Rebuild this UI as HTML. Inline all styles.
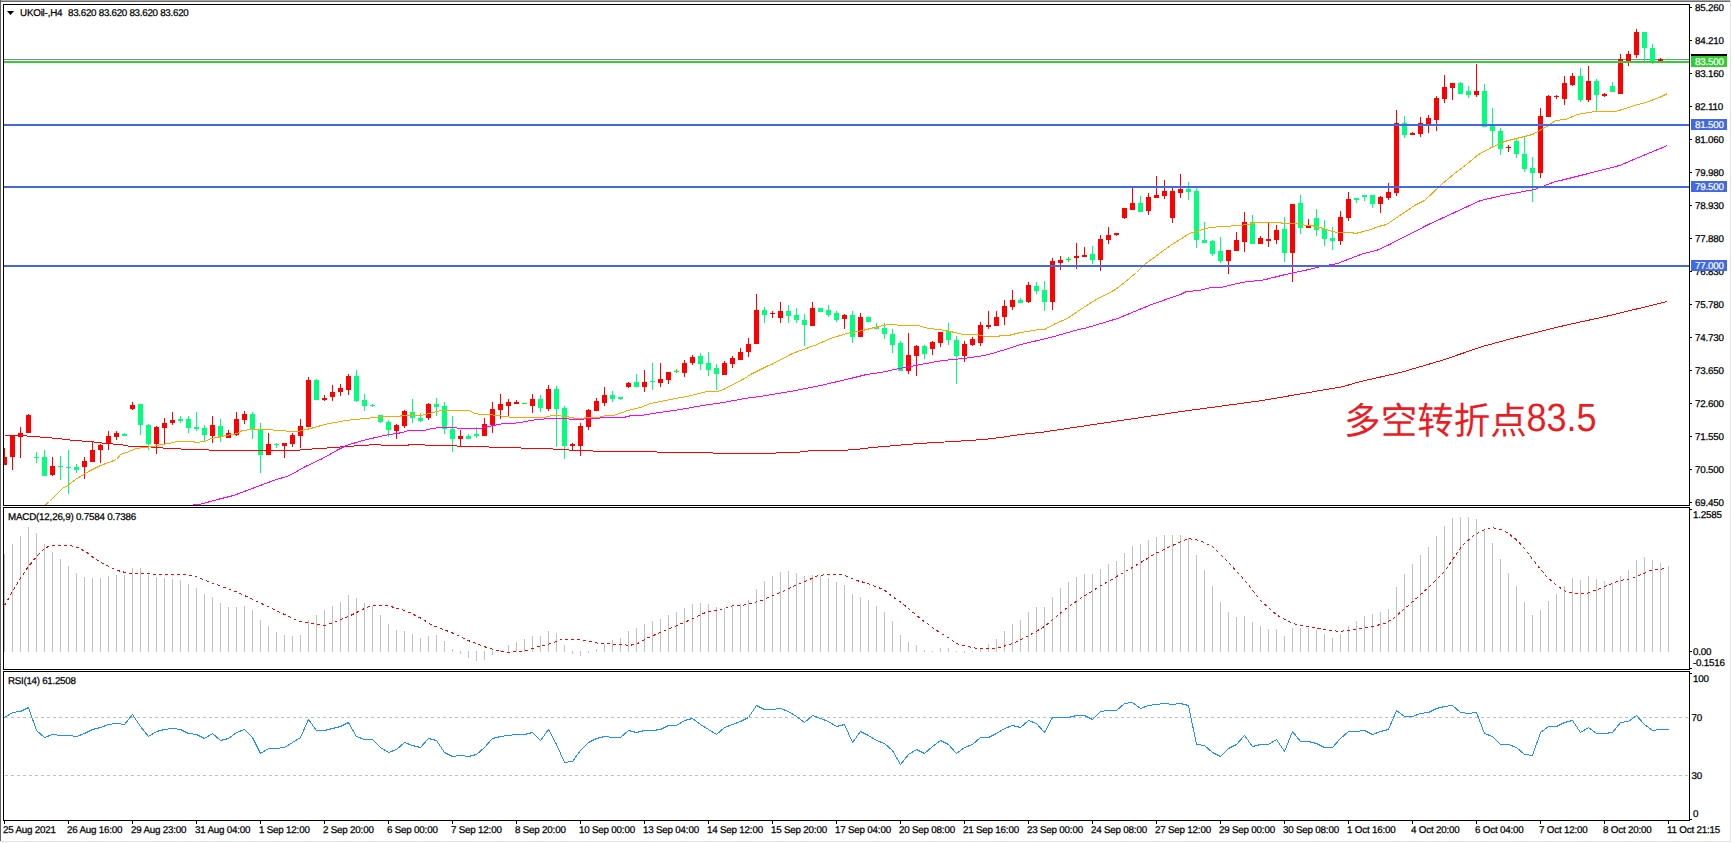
<!DOCTYPE html>
<html><head><meta charset="utf-8"><title>UKOil H4</title>
<style>
html,body{margin:0;padding:0;background:#fff;width:1732px;height:843px;overflow:hidden;}
svg{display:block;}
</style></head>
<body>
<svg width="1732" height="843" viewBox="0 0 1732 843" shape-rendering="crispEdges">
<defs><clipPath id="cm"><rect x="4" y="5" width="1685" height="500"/></clipPath><clipPath id="cd"><rect x="4" y="508" width="1685" height="161"/></clipPath><clipPath id="cr"><rect x="4" y="672" width="1685" height="148"/></clipPath></defs>
<style>text.k{fill:#000;stroke:#000;stroke-width:0.25px}text.w{fill:#fff;stroke:#fff;stroke-width:0.2px}</style>
<rect x="0" y="0" width="1732" height="843" fill="#ffffff"/>
<rect x="4" y="59" width="1685" height="1" fill="#778899"/>
<g clip-path="url(#cm)">
<rect x="4" y="448" width="1" height="17" fill="#ff0000"/>
<rect x="2" y="457" width="5" height="8" fill="#ff0000"/>
<rect x="12" y="435" width="1" height="35" fill="#ff0000"/>
<rect x="10" y="435" width="5" height="22" fill="#ff0000"/>
<rect x="20" y="427" width="1" height="31" fill="#ff0000"/>
<rect x="18" y="433" width="5" height="4" fill="#ff0000"/>
<rect x="28" y="414" width="1" height="19" fill="#ff0000"/>
<rect x="26" y="415" width="5" height="18" fill="#ff0000"/>
<rect x="36" y="452" width="1" height="11" fill="#00ff7f"/>
<rect x="34" y="457" width="5" height="1" fill="#00ff7f"/>
<rect x="44" y="450" width="1" height="26" fill="#00ff7f"/>
<rect x="42" y="457" width="5" height="19" fill="#00ff7f"/>
<rect x="52" y="457" width="1" height="19" fill="#ff0000"/>
<rect x="50" y="466" width="5" height="9" fill="#ff0000"/>
<rect x="60" y="456" width="1" height="24" fill="#00ff7f"/>
<rect x="58" y="466" width="5" height="1" fill="#00ff7f"/>
<rect x="68" y="450" width="1" height="44" fill="#00ff7f"/>
<rect x="66" y="467" width="5" height="1" fill="#00ff7f"/>
<rect x="76" y="464" width="1" height="9" fill="#00ff7f"/>
<rect x="74" y="467" width="5" height="3" fill="#00ff7f"/>
<rect x="84" y="457" width="1" height="22" fill="#ff0000"/>
<rect x="82" y="461" width="5" height="6" fill="#ff0000"/>
<rect x="92" y="442" width="1" height="20" fill="#ff0000"/>
<rect x="90" y="450" width="5" height="12" fill="#ff0000"/>
<rect x="100" y="444" width="1" height="19" fill="#ff0000"/>
<rect x="98" y="445" width="5" height="5" fill="#ff0000"/>
<rect x="108" y="431" width="1" height="19" fill="#ff0000"/>
<rect x="106" y="436" width="5" height="8" fill="#ff0000"/>
<rect x="116" y="431" width="1" height="9" fill="#ff0000"/>
<rect x="114" y="433" width="5" height="4" fill="#ff0000"/>
<rect x="124" y="433" width="1" height="3" fill="#00ff7f"/>
<rect x="122" y="434" width="5" height="2" fill="#00ff7f"/>
<rect x="132" y="402" width="1" height="8" fill="#ff0000"/>
<rect x="130" y="405" width="5" height="4" fill="#ff0000"/>
<rect x="140" y="404" width="1" height="31" fill="#00ff7f"/>
<rect x="138" y="404" width="5" height="21" fill="#00ff7f"/>
<rect x="148" y="424" width="1" height="26" fill="#00ff7f"/>
<rect x="146" y="425" width="5" height="19" fill="#00ff7f"/>
<rect x="156" y="426" width="1" height="28" fill="#ff0000"/>
<rect x="154" y="427" width="5" height="17" fill="#ff0000"/>
<rect x="164" y="418" width="1" height="26" fill="#ff0000"/>
<rect x="162" y="423" width="5" height="5" fill="#ff0000"/>
<rect x="172" y="412" width="1" height="13" fill="#ff0000"/>
<rect x="170" y="420" width="5" height="3" fill="#ff0000"/>
<rect x="180" y="416" width="1" height="7" fill="#00ff7f"/>
<rect x="178" y="419" width="5" height="2" fill="#00ff7f"/>
<rect x="188" y="416" width="1" height="17" fill="#00ff7f"/>
<rect x="186" y="419" width="5" height="9" fill="#00ff7f"/>
<rect x="196" y="412" width="1" height="19" fill="#00ff7f"/>
<rect x="194" y="427" width="5" height="2" fill="#00ff7f"/>
<rect x="204" y="425" width="1" height="16" fill="#00ff7f"/>
<rect x="202" y="428" width="5" height="7" fill="#00ff7f"/>
<rect x="212" y="416" width="1" height="27" fill="#ff0000"/>
<rect x="210" y="425" width="5" height="11" fill="#ff0000"/>
<rect x="220" y="419" width="1" height="23" fill="#00ff7f"/>
<rect x="218" y="426" width="5" height="11" fill="#00ff7f"/>
<rect x="228" y="430" width="1" height="8" fill="#ff0000"/>
<rect x="226" y="433" width="5" height="5" fill="#ff0000"/>
<rect x="236" y="412" width="1" height="24" fill="#ff0000"/>
<rect x="234" y="419" width="5" height="16" fill="#ff0000"/>
<rect x="244" y="411" width="1" height="13" fill="#ff0000"/>
<rect x="242" y="414" width="5" height="6" fill="#ff0000"/>
<rect x="252" y="412" width="1" height="27" fill="#00ff7f"/>
<rect x="250" y="414" width="5" height="15" fill="#00ff7f"/>
<rect x="260" y="423" width="1" height="50" fill="#00ff7f"/>
<rect x="258" y="430" width="5" height="25" fill="#00ff7f"/>
<rect x="268" y="433" width="1" height="22" fill="#ff0000"/>
<rect x="266" y="444" width="5" height="11" fill="#ff0000"/>
<rect x="276" y="443" width="1" height="5" fill="#00ff7f"/>
<rect x="274" y="444" width="5" height="1" fill="#00ff7f"/>
<rect x="284" y="443" width="1" height="15" fill="#ff0000"/>
<rect x="282" y="443" width="5" height="3" fill="#ff0000"/>
<rect x="292" y="433" width="1" height="14" fill="#ff0000"/>
<rect x="290" y="435" width="5" height="9" fill="#ff0000"/>
<rect x="300" y="419" width="1" height="29" fill="#ff0000"/>
<rect x="298" y="426" width="5" height="10" fill="#ff0000"/>
<rect x="308" y="377" width="1" height="50" fill="#ff0000"/>
<rect x="306" y="380" width="5" height="47" fill="#ff0000"/>
<rect x="316" y="379" width="1" height="21" fill="#00ff7f"/>
<rect x="314" y="380" width="5" height="20" fill="#00ff7f"/>
<rect x="324" y="395" width="1" height="6" fill="#ff0000"/>
<rect x="322" y="398" width="5" height="2" fill="#ff0000"/>
<rect x="332" y="385" width="1" height="16" fill="#ff0000"/>
<rect x="330" y="392" width="5" height="5" fill="#ff0000"/>
<rect x="340" y="384" width="1" height="12" fill="#ff0000"/>
<rect x="338" y="388" width="5" height="4" fill="#ff0000"/>
<rect x="348" y="374" width="1" height="21" fill="#ff0000"/>
<rect x="346" y="376" width="5" height="14" fill="#ff0000"/>
<rect x="356" y="370" width="1" height="32" fill="#00ff7f"/>
<rect x="354" y="376" width="5" height="25" fill="#00ff7f"/>
<rect x="364" y="394" width="1" height="17" fill="#00ff7f"/>
<rect x="362" y="400" width="5" height="6" fill="#00ff7f"/>
<rect x="372" y="404" width="1" height="3" fill="#00ff7f"/>
<rect x="370" y="405" width="5" height="1" fill="#00ff7f"/>
<rect x="380" y="415" width="1" height="8" fill="#00ff7f"/>
<rect x="378" y="415" width="5" height="7" fill="#00ff7f"/>
<rect x="388" y="420" width="1" height="17" fill="#00ff7f"/>
<rect x="386" y="422" width="5" height="8" fill="#00ff7f"/>
<rect x="396" y="424" width="1" height="15" fill="#ff0000"/>
<rect x="394" y="425" width="5" height="6" fill="#ff0000"/>
<rect x="404" y="410" width="1" height="18" fill="#ff0000"/>
<rect x="402" y="411" width="5" height="15" fill="#ff0000"/>
<rect x="412" y="399" width="1" height="24" fill="#00ff7f"/>
<rect x="410" y="412" width="5" height="6" fill="#00ff7f"/>
<rect x="420" y="413" width="1" height="9" fill="#00ff7f"/>
<rect x="418" y="418" width="5" height="3" fill="#00ff7f"/>
<rect x="428" y="403" width="1" height="17" fill="#ff0000"/>
<rect x="426" y="404" width="5" height="14" fill="#ff0000"/>
<rect x="436" y="398" width="1" height="18" fill="#00ff7f"/>
<rect x="434" y="404" width="5" height="3" fill="#00ff7f"/>
<rect x="444" y="402" width="1" height="32" fill="#00ff7f"/>
<rect x="442" y="406" width="5" height="23" fill="#00ff7f"/>
<rect x="452" y="416" width="1" height="36" fill="#00ff7f"/>
<rect x="450" y="429" width="5" height="10" fill="#00ff7f"/>
<rect x="460" y="430" width="1" height="16" fill="#ff0000"/>
<rect x="458" y="436" width="5" height="3" fill="#ff0000"/>
<rect x="468" y="434" width="1" height="5" fill="#00ff7f"/>
<rect x="466" y="436" width="5" height="3" fill="#00ff7f"/>
<rect x="476" y="427" width="1" height="11" fill="#00ff7f"/>
<rect x="474" y="434" width="5" height="2" fill="#00ff7f"/>
<rect x="484" y="418" width="1" height="18" fill="#ff0000"/>
<rect x="482" y="424" width="5" height="12" fill="#ff0000"/>
<rect x="492" y="402" width="1" height="31" fill="#ff0000"/>
<rect x="490" y="409" width="5" height="16" fill="#ff0000"/>
<rect x="500" y="394" width="1" height="25" fill="#ff0000"/>
<rect x="498" y="404" width="5" height="6" fill="#ff0000"/>
<rect x="508" y="399" width="1" height="17" fill="#ff0000"/>
<rect x="506" y="402" width="5" height="4" fill="#ff0000"/>
<rect x="516" y="400" width="1" height="4" fill="#ff0000"/>
<rect x="514" y="402" width="5" height="2" fill="#ff0000"/>
<rect x="524" y="403" width="1" height="1" fill="#00ff00"/>
<rect x="522" y="403" width="5" height="1" fill="#00ff00"/>
<rect x="532" y="394" width="1" height="19" fill="#ff0000"/>
<rect x="530" y="399" width="5" height="7" fill="#ff0000"/>
<rect x="540" y="395" width="1" height="17" fill="#00ff7f"/>
<rect x="538" y="399" width="5" height="9" fill="#00ff7f"/>
<rect x="548" y="385" width="1" height="26" fill="#ff0000"/>
<rect x="546" y="389" width="5" height="20" fill="#ff0000"/>
<rect x="556" y="386" width="1" height="61" fill="#00ff7f"/>
<rect x="554" y="389" width="5" height="20" fill="#00ff7f"/>
<rect x="564" y="406" width="1" height="53" fill="#00ff7f"/>
<rect x="562" y="408" width="5" height="38" fill="#00ff7f"/>
<rect x="572" y="443" width="1" height="7" fill="#ff0000"/>
<rect x="570" y="444" width="5" height="2" fill="#ff0000"/>
<rect x="580" y="423" width="1" height="33" fill="#ff0000"/>
<rect x="578" y="426" width="5" height="20" fill="#ff0000"/>
<rect x="588" y="409" width="1" height="21" fill="#ff0000"/>
<rect x="586" y="410" width="5" height="17" fill="#ff0000"/>
<rect x="596" y="398" width="1" height="13" fill="#ff0000"/>
<rect x="594" y="401" width="5" height="10" fill="#ff0000"/>
<rect x="604" y="387" width="1" height="19" fill="#ff0000"/>
<rect x="602" y="395" width="5" height="8" fill="#ff0000"/>
<rect x="612" y="391" width="1" height="11" fill="#00ff7f"/>
<rect x="610" y="395" width="5" height="4" fill="#00ff7f"/>
<rect x="620" y="397" width="1" height="3" fill="#00ff7f"/>
<rect x="618" y="397" width="5" height="2" fill="#00ff7f"/>
<rect x="628" y="382" width="1" height="6" fill="#ff0000"/>
<rect x="626" y="383" width="5" height="4" fill="#ff0000"/>
<rect x="636" y="374" width="1" height="13" fill="#00ff7f"/>
<rect x="634" y="382" width="5" height="5" fill="#00ff7f"/>
<rect x="644" y="370" width="1" height="22" fill="#ff0000"/>
<rect x="642" y="382" width="5" height="5" fill="#ff0000"/>
<rect x="652" y="363" width="1" height="27" fill="#00ff7f"/>
<rect x="650" y="381" width="5" height="1" fill="#00ff7f"/>
<rect x="660" y="363" width="1" height="24" fill="#ff0000"/>
<rect x="658" y="379" width="5" height="4" fill="#ff0000"/>
<rect x="668" y="372" width="1" height="12" fill="#ff0000"/>
<rect x="666" y="372" width="5" height="8" fill="#ff0000"/>
<rect x="676" y="369" width="1" height="4" fill="#00ff00"/>
<rect x="674" y="371" width="5" height="1" fill="#00ff00"/>
<rect x="684" y="360" width="1" height="17" fill="#ff0000"/>
<rect x="682" y="363" width="5" height="10" fill="#ff0000"/>
<rect x="692" y="355" width="1" height="10" fill="#ff0000"/>
<rect x="690" y="357" width="5" height="6" fill="#ff0000"/>
<rect x="700" y="353" width="1" height="17" fill="#00ff7f"/>
<rect x="698" y="356" width="5" height="8" fill="#00ff7f"/>
<rect x="708" y="352" width="1" height="24" fill="#00ff7f"/>
<rect x="706" y="363" width="5" height="7" fill="#00ff7f"/>
<rect x="716" y="364" width="1" height="26" fill="#00ff7f"/>
<rect x="714" y="368" width="5" height="6" fill="#00ff7f"/>
<rect x="724" y="361" width="1" height="14" fill="#ff0000"/>
<rect x="722" y="363" width="5" height="12" fill="#ff0000"/>
<rect x="732" y="356" width="1" height="12" fill="#ff0000"/>
<rect x="730" y="358" width="5" height="6" fill="#ff0000"/>
<rect x="740" y="348" width="1" height="12" fill="#ff0000"/>
<rect x="738" y="352" width="5" height="8" fill="#ff0000"/>
<rect x="748" y="338" width="1" height="19" fill="#ff0000"/>
<rect x="746" y="344" width="5" height="8" fill="#ff0000"/>
<rect x="756" y="294" width="1" height="50" fill="#ff0000"/>
<rect x="754" y="310" width="5" height="34" fill="#ff0000"/>
<rect x="764" y="307" width="1" height="16" fill="#00ff7f"/>
<rect x="762" y="310" width="5" height="5" fill="#00ff7f"/>
<rect x="772" y="311" width="1" height="7" fill="#ff0000"/>
<rect x="770" y="313" width="5" height="1" fill="#ff0000"/>
<rect x="780" y="302" width="1" height="21" fill="#ff0000"/>
<rect x="778" y="311" width="5" height="7" fill="#ff0000"/>
<rect x="788" y="305" width="1" height="18" fill="#00ff7f"/>
<rect x="786" y="311" width="5" height="5" fill="#00ff7f"/>
<rect x="796" y="308" width="1" height="15" fill="#00ff7f"/>
<rect x="794" y="315" width="5" height="5" fill="#00ff7f"/>
<rect x="804" y="314" width="1" height="32" fill="#00ff7f"/>
<rect x="802" y="320" width="5" height="5" fill="#00ff7f"/>
<rect x="812" y="302" width="1" height="24" fill="#ff0000"/>
<rect x="810" y="308" width="5" height="18" fill="#ff0000"/>
<rect x="820" y="308" width="1" height="4" fill="#00ff7f"/>
<rect x="818" y="308" width="5" height="4" fill="#00ff7f"/>
<rect x="828" y="305" width="1" height="12" fill="#00ff7f"/>
<rect x="826" y="310" width="5" height="5" fill="#00ff7f"/>
<rect x="836" y="311" width="1" height="11" fill="#00ff7f"/>
<rect x="834" y="313" width="5" height="7" fill="#00ff7f"/>
<rect x="844" y="314" width="1" height="15" fill="#ff0000"/>
<rect x="842" y="315" width="5" height="4" fill="#ff0000"/>
<rect x="852" y="311" width="1" height="32" fill="#00ff7f"/>
<rect x="850" y="315" width="5" height="22" fill="#00ff7f"/>
<rect x="860" y="313" width="1" height="24" fill="#ff0000"/>
<rect x="858" y="317" width="5" height="20" fill="#ff0000"/>
<rect x="868" y="317" width="1" height="5" fill="#00ff7f"/>
<rect x="866" y="317" width="5" height="5" fill="#00ff7f"/>
<rect x="876" y="323" width="1" height="6" fill="#00ff7f"/>
<rect x="874" y="327" width="5" height="2" fill="#00ff7f"/>
<rect x="884" y="323" width="1" height="16" fill="#00ff7f"/>
<rect x="882" y="328" width="5" height="6" fill="#00ff7f"/>
<rect x="892" y="329" width="1" height="24" fill="#00ff7f"/>
<rect x="890" y="334" width="5" height="11" fill="#00ff7f"/>
<rect x="900" y="341" width="1" height="30" fill="#00ff7f"/>
<rect x="898" y="343" width="5" height="28" fill="#00ff7f"/>
<rect x="908" y="333" width="1" height="41" fill="#ff0000"/>
<rect x="906" y="355" width="5" height="16" fill="#ff0000"/>
<rect x="916" y="345" width="1" height="31" fill="#ff0000"/>
<rect x="914" y="346" width="5" height="10" fill="#ff0000"/>
<rect x="924" y="345" width="1" height="14" fill="#00ff7f"/>
<rect x="922" y="346" width="5" height="8" fill="#00ff7f"/>
<rect x="932" y="341" width="1" height="14" fill="#ff0000"/>
<rect x="930" y="342" width="5" height="7" fill="#ff0000"/>
<rect x="940" y="332" width="1" height="15" fill="#ff0000"/>
<rect x="938" y="332" width="5" height="11" fill="#ff0000"/>
<rect x="948" y="323" width="1" height="22" fill="#00ff7f"/>
<rect x="946" y="331" width="5" height="9" fill="#00ff7f"/>
<rect x="956" y="336" width="1" height="48" fill="#00ff7f"/>
<rect x="954" y="340" width="5" height="16" fill="#00ff7f"/>
<rect x="964" y="341" width="1" height="21" fill="#ff0000"/>
<rect x="962" y="344" width="5" height="12" fill="#ff0000"/>
<rect x="972" y="337" width="1" height="9" fill="#ff0000"/>
<rect x="970" y="339" width="5" height="6" fill="#ff0000"/>
<rect x="980" y="322" width="1" height="24" fill="#ff0000"/>
<rect x="978" y="325" width="5" height="18" fill="#ff0000"/>
<rect x="988" y="311" width="1" height="18" fill="#ff0000"/>
<rect x="986" y="325" width="5" height="2" fill="#ff0000"/>
<rect x="996" y="311" width="1" height="15" fill="#ff0000"/>
<rect x="994" y="317" width="5" height="9" fill="#ff0000"/>
<rect x="1004" y="300" width="1" height="25" fill="#ff0000"/>
<rect x="1002" y="306" width="5" height="11" fill="#ff0000"/>
<rect x="1012" y="290" width="1" height="20" fill="#ff0000"/>
<rect x="1010" y="300" width="5" height="7" fill="#ff0000"/>
<rect x="1020" y="298" width="1" height="5" fill="#00ff7f"/>
<rect x="1018" y="300" width="5" height="3" fill="#00ff7f"/>
<rect x="1028" y="282" width="1" height="21" fill="#ff0000"/>
<rect x="1026" y="285" width="5" height="17" fill="#ff0000"/>
<rect x="1036" y="282" width="1" height="12" fill="#00ff7f"/>
<rect x="1034" y="286" width="5" height="5" fill="#00ff7f"/>
<rect x="1044" y="281" width="1" height="30" fill="#00ff7f"/>
<rect x="1042" y="290" width="5" height="12" fill="#00ff7f"/>
<rect x="1052" y="258" width="1" height="52" fill="#ff0000"/>
<rect x="1050" y="261" width="5" height="41" fill="#ff0000"/>
<rect x="1060" y="256" width="1" height="14" fill="#ff0000"/>
<rect x="1058" y="260" width="5" height="3" fill="#ff0000"/>
<rect x="1068" y="257" width="1" height="5" fill="#00ff00"/>
<rect x="1066" y="259" width="5" height="1" fill="#00ff00"/>
<rect x="1076" y="243" width="1" height="26" fill="#ff0000"/>
<rect x="1074" y="256" width="5" height="2" fill="#ff0000"/>
<rect x="1084" y="247" width="1" height="10" fill="#ff0000"/>
<rect x="1082" y="255" width="5" height="2" fill="#ff0000"/>
<rect x="1092" y="246" width="1" height="18" fill="#00ff7f"/>
<rect x="1090" y="254" width="5" height="6" fill="#00ff7f"/>
<rect x="1100" y="235" width="1" height="36" fill="#ff0000"/>
<rect x="1098" y="239" width="5" height="21" fill="#ff0000"/>
<rect x="1108" y="227" width="1" height="17" fill="#ff0000"/>
<rect x="1106" y="235" width="5" height="5" fill="#ff0000"/>
<rect x="1116" y="233" width="1" height="3" fill="#ff0000"/>
<rect x="1114" y="233" width="5" height="2" fill="#ff0000"/>
<rect x="1124" y="208" width="1" height="11" fill="#ff0000"/>
<rect x="1122" y="208" width="5" height="10" fill="#ff0000"/>
<rect x="1132" y="188" width="1" height="22" fill="#ff0000"/>
<rect x="1130" y="203" width="5" height="7" fill="#ff0000"/>
<rect x="1140" y="196" width="1" height="16" fill="#00ff7f"/>
<rect x="1138" y="203" width="5" height="9" fill="#00ff7f"/>
<rect x="1148" y="193" width="1" height="22" fill="#ff0000"/>
<rect x="1146" y="197" width="5" height="14" fill="#ff0000"/>
<rect x="1156" y="176" width="1" height="22" fill="#ff0000"/>
<rect x="1154" y="195" width="5" height="3" fill="#ff0000"/>
<rect x="1164" y="180" width="1" height="19" fill="#ff0000"/>
<rect x="1162" y="191" width="5" height="5" fill="#ff0000"/>
<rect x="1172" y="188" width="1" height="35" fill="#ff0000"/>
<rect x="1170" y="191" width="5" height="27" fill="#ff0000"/>
<rect x="1180" y="174" width="1" height="24" fill="#ff0000"/>
<rect x="1178" y="189" width="5" height="4" fill="#ff0000"/>
<rect x="1188" y="182" width="1" height="18" fill="#00ff7f"/>
<rect x="1186" y="189" width="5" height="3" fill="#00ff7f"/>
<rect x="1196" y="188" width="1" height="60" fill="#00ff7f"/>
<rect x="1194" y="191" width="5" height="49" fill="#00ff7f"/>
<rect x="1204" y="222" width="1" height="21" fill="#00ff7f"/>
<rect x="1202" y="240" width="5" height="3" fill="#00ff7f"/>
<rect x="1212" y="240" width="1" height="16" fill="#00ff7f"/>
<rect x="1210" y="241" width="5" height="13" fill="#00ff7f"/>
<rect x="1220" y="237" width="1" height="26" fill="#00ff7f"/>
<rect x="1218" y="251" width="5" height="10" fill="#00ff7f"/>
<rect x="1228" y="250" width="1" height="24" fill="#ff0000"/>
<rect x="1226" y="250" width="5" height="11" fill="#ff0000"/>
<rect x="1236" y="232" width="1" height="19" fill="#ff0000"/>
<rect x="1234" y="240" width="5" height="11" fill="#ff0000"/>
<rect x="1244" y="212" width="1" height="40" fill="#ff0000"/>
<rect x="1242" y="222" width="5" height="20" fill="#ff0000"/>
<rect x="1252" y="215" width="1" height="29" fill="#00ff7f"/>
<rect x="1250" y="222" width="5" height="22" fill="#00ff7f"/>
<rect x="1260" y="236" width="1" height="8" fill="#ff0000"/>
<rect x="1258" y="238" width="5" height="6" fill="#ff0000"/>
<rect x="1268" y="223" width="1" height="24" fill="#ff0000"/>
<rect x="1266" y="239" width="5" height="2" fill="#ff0000"/>
<rect x="1276" y="225" width="1" height="19" fill="#ff0000"/>
<rect x="1274" y="230" width="5" height="10" fill="#ff0000"/>
<rect x="1284" y="217" width="1" height="45" fill="#00ff7f"/>
<rect x="1282" y="229" width="5" height="24" fill="#00ff7f"/>
<rect x="1292" y="204" width="1" height="78" fill="#ff0000"/>
<rect x="1290" y="204" width="5" height="49" fill="#ff0000"/>
<rect x="1300" y="195" width="1" height="39" fill="#00ff7f"/>
<rect x="1298" y="203" width="5" height="25" fill="#00ff7f"/>
<rect x="1308" y="219" width="1" height="9" fill="#ff0000"/>
<rect x="1306" y="226" width="5" height="2" fill="#ff0000"/>
<rect x="1316" y="209" width="1" height="27" fill="#00ff7f"/>
<rect x="1314" y="218" width="5" height="12" fill="#00ff7f"/>
<rect x="1324" y="220" width="1" height="26" fill="#00ff7f"/>
<rect x="1322" y="229" width="5" height="10" fill="#00ff7f"/>
<rect x="1332" y="227" width="1" height="23" fill="#00ff7f"/>
<rect x="1330" y="238" width="5" height="3" fill="#00ff7f"/>
<rect x="1340" y="211" width="1" height="34" fill="#ff0000"/>
<rect x="1338" y="217" width="5" height="24" fill="#ff0000"/>
<rect x="1348" y="192" width="1" height="29" fill="#ff0000"/>
<rect x="1346" y="199" width="5" height="19" fill="#ff0000"/>
<rect x="1356" y="198" width="1" height="5" fill="#00ff7f"/>
<rect x="1354" y="198" width="5" height="2" fill="#00ff7f"/>
<rect x="1364" y="195" width="1" height="6" fill="#00ff7f"/>
<rect x="1362" y="195" width="5" height="2" fill="#00ff7f"/>
<rect x="1372" y="195" width="1" height="13" fill="#00ff7f"/>
<rect x="1370" y="195" width="5" height="9" fill="#00ff7f"/>
<rect x="1380" y="196" width="1" height="17" fill="#ff0000"/>
<rect x="1378" y="197" width="5" height="7" fill="#ff0000"/>
<rect x="1388" y="183" width="1" height="17" fill="#ff0000"/>
<rect x="1386" y="192" width="5" height="6" fill="#ff0000"/>
<rect x="1396" y="110" width="1" height="86" fill="#ff0000"/>
<rect x="1394" y="123" width="5" height="70" fill="#ff0000"/>
<rect x="1404" y="116" width="1" height="22" fill="#00ff7f"/>
<rect x="1402" y="123" width="5" height="12" fill="#00ff7f"/>
<rect x="1412" y="132" width="1" height="3" fill="#ff0000"/>
<rect x="1410" y="133" width="5" height="2" fill="#ff0000"/>
<rect x="1420" y="117" width="1" height="20" fill="#ff0000"/>
<rect x="1418" y="123" width="5" height="11" fill="#ff0000"/>
<rect x="1428" y="115" width="1" height="18" fill="#ff0000"/>
<rect x="1426" y="118" width="5" height="6" fill="#ff0000"/>
<rect x="1436" y="96" width="1" height="35" fill="#ff0000"/>
<rect x="1434" y="98" width="5" height="22" fill="#ff0000"/>
<rect x="1444" y="75" width="1" height="28" fill="#ff0000"/>
<rect x="1442" y="87" width="5" height="12" fill="#ff0000"/>
<rect x="1452" y="83" width="1" height="17" fill="#ff0000"/>
<rect x="1450" y="83" width="5" height="5" fill="#ff0000"/>
<rect x="1460" y="82" width="1" height="12" fill="#00ff7f"/>
<rect x="1458" y="83" width="5" height="11" fill="#00ff7f"/>
<rect x="1468" y="86" width="1" height="12" fill="#00ff7f"/>
<rect x="1466" y="91" width="5" height="4" fill="#00ff7f"/>
<rect x="1476" y="64" width="1" height="33" fill="#ff0000"/>
<rect x="1474" y="91" width="5" height="4" fill="#ff0000"/>
<rect x="1484" y="84" width="1" height="43" fill="#00ff7f"/>
<rect x="1482" y="91" width="5" height="36" fill="#00ff7f"/>
<rect x="1492" y="108" width="1" height="39" fill="#00ff7f"/>
<rect x="1490" y="126" width="5" height="5" fill="#00ff7f"/>
<rect x="1500" y="128" width="1" height="27" fill="#00ff7f"/>
<rect x="1498" y="131" width="5" height="18" fill="#00ff7f"/>
<rect x="1508" y="145" width="1" height="7" fill="#ff0000"/>
<rect x="1506" y="147" width="5" height="1" fill="#ff0000"/>
<rect x="1516" y="139" width="1" height="19" fill="#00ff7f"/>
<rect x="1514" y="141" width="5" height="13" fill="#00ff7f"/>
<rect x="1524" y="137" width="1" height="35" fill="#00ff7f"/>
<rect x="1522" y="154" width="5" height="15" fill="#00ff7f"/>
<rect x="1532" y="157" width="1" height="45" fill="#00ff7f"/>
<rect x="1530" y="168" width="5" height="5" fill="#00ff7f"/>
<rect x="1540" y="108" width="1" height="70" fill="#ff0000"/>
<rect x="1538" y="116" width="5" height="57" fill="#ff0000"/>
<rect x="1548" y="95" width="1" height="22" fill="#ff0000"/>
<rect x="1546" y="96" width="5" height="21" fill="#ff0000"/>
<rect x="1556" y="95" width="1" height="4" fill="#ff0000"/>
<rect x="1554" y="96" width="5" height="1" fill="#ff0000"/>
<rect x="1564" y="76" width="1" height="29" fill="#ff0000"/>
<rect x="1562" y="83" width="5" height="16" fill="#ff0000"/>
<rect x="1572" y="73" width="1" height="13" fill="#ff0000"/>
<rect x="1570" y="76" width="5" height="9" fill="#ff0000"/>
<rect x="1580" y="68" width="1" height="34" fill="#00ff7f"/>
<rect x="1578" y="76" width="5" height="24" fill="#00ff7f"/>
<rect x="1588" y="66" width="1" height="36" fill="#ff0000"/>
<rect x="1586" y="81" width="5" height="19" fill="#ff0000"/>
<rect x="1596" y="79" width="1" height="32" fill="#00ff7f"/>
<rect x="1594" y="81" width="5" height="14" fill="#00ff7f"/>
<rect x="1604" y="93" width="1" height="4" fill="#ff0000"/>
<rect x="1602" y="94" width="5" height="2" fill="#ff0000"/>
<rect x="1612" y="82" width="1" height="10" fill="#00ff7f"/>
<rect x="1610" y="86" width="5" height="6" fill="#00ff7f"/>
<rect x="1620" y="54" width="1" height="40" fill="#ff0000"/>
<rect x="1618" y="59" width="5" height="35" fill="#ff0000"/>
<rect x="1628" y="51" width="1" height="15" fill="#ff0000"/>
<rect x="1626" y="54" width="5" height="7" fill="#ff0000"/>
<rect x="1636" y="29" width="1" height="29" fill="#ff0000"/>
<rect x="1634" y="32" width="5" height="23" fill="#ff0000"/>
<rect x="1644" y="32" width="1" height="29" fill="#00ff7f"/>
<rect x="1642" y="32" width="5" height="16" fill="#00ff7f"/>
<rect x="1652" y="44" width="1" height="20" fill="#00ff7f"/>
<rect x="1650" y="48" width="5" height="13" fill="#00ff7f"/>
<rect x="1660" y="58" width="1" height="3" fill="#ff0000"/>
<rect x="1658" y="59" width="5" height="2" fill="#ff0000"/>
<rect x="1668" y="59" width="1" height="1" fill="#00ff00"/>
<rect x="1666" y="59" width="5" height="1" fill="#00ff00"/>
</g>
<g clip-path="url(#cm)" fill="none" stroke-width="1">
<polyline points="4.5,435.5 16.5,435.5 20.5,435.5 33.5,436.5 57.5,438.5 73.5,440.5 89.5,441.5 105.5,443.5 120.5,444.5 130.5,446.5 144.5,446.5 168.5,448.5 192.5,449.5 225.5,450.5 257.5,450.5 296.5,450.5 304.5,449.5 320.5,448.5 346.5,446.5 376.5,444.5 385.5,445.5 408.5,445.5 408.5,444.5 424.5,444.5 425.5,445.5 456.5,445.5 457.5,446.5 488.5,446.5 489.5,447.5 520.5,447.5 521.5,448.5 552.5,448.5 553.5,449.5 568.5,449.5 569.5,450.5 592.5,450.5 593.5,451.5 656.5,451.5 657.5,452.5 712.5,452.5 713.5,453.5 775.5,453.5 776.5,452.5 799.5,452.5 800.5,451.5 816.5,450.5 840.5,450.5 856.5,449.5 872.5,447.5 895.5,445.5 918.5,443.5 953.5,441.5 983.5,439.5 1000.5,437.5 1020.5,434.5 1040.5,432.5 1100.5,423.5 1181.5,411.5 1262.5,400.5 1343.5,386.5 1360.5,381.5 1400.5,372.5 1441.5,360.5 1482.5,346.5 1515.5,337.5 1564.5,325.5 1605.5,316.5 1667.5,301.5" stroke="#ff0000"/>
<polyline points="185.5,505.5 186.5,505.5 199.5,504.5 217.5,499.5 233.5,495.5 249.5,489.5 273.5,480.5 289.5,475.5 305.5,466.5 322.5,458.5 338.5,449.5 346.5,445.5 362.5,440.5 384.5,435.5 402.5,432.5 408.5,430.5 423.5,430.5 432.5,428.5 440.5,427.5 456.5,427.5 457.5,428.5 479.5,428.5 488.5,426.5 503.5,423.5 512.5,423.5 520.5,422.5 536.5,419.5 552.5,418.5 568.5,418.5 569.5,419.5 583.5,419.5 584.5,418.5 599.5,418.5 600.5,417.5 623.5,417.5 631.5,415.5 640.5,415.5 659.5,412.5 680.5,409.5 702.5,405.5 723.5,402.5 744.5,398.5 760.5,396.5 790.5,391.5 820.5,385.5 850.5,378.5 866.5,374.5 880.5,372.5 899.5,368.5 920.5,364.5 942.5,360.5 963.5,358.5 984.5,355.5 995.5,352.5 1008.5,348.5 1020.5,344.5 1050.5,337.5 1078.5,329.5 1084.5,328.5 1117.5,318.5 1151.5,304.5 1180.5,294.5 1186.5,291.5 1199.5,290.5 1210.5,287.5 1221.5,287.5 1232.5,284.5 1247.5,281.5 1260.5,280.5 1265.5,279.5 1285.5,274.5 1304.5,270.5 1321.5,266.5 1337.5,263.5 1350.5,258.5 1363.5,253.5 1376.5,250.5 1387.5,245.5 1428.5,224.5 1480.5,200.5 1502.5,195.5 1534.5,189.5 1555.5,181.5 1560.5,180.5 1588.5,173.5 1619.5,165.5 1638.5,157.5 1667.5,145.5" stroke="#ff00ff"/>
<polyline points="44.5,505.5 49.5,501.5 62.5,488.5 67.5,485.5 75.5,479.5 83.5,474.5 90.5,470.5 100.5,465.5 116.5,459.5 120.5,454.5 126.5,452.5 136.5,448.5 152.5,446.5 161.5,444.5 168.5,443.5 177.5,441.5 184.5,441.5 192.5,441.5 196.5,442.5 204.5,441.5 211.5,438.5 217.5,437.5 221.5,436.5 237.5,433.5 242.5,430.5 252.5,429.5 272.5,429.5 273.5,430.5 297.5,431.5 306.5,429.5 314.5,427.5 324.5,424.5 345.5,420.5 365.5,418.5 384.5,416.5 399.5,416.5 401.5,415.5 420.5,415.5 429.5,413.5 440.5,410.5 469.5,410.5 474.5,413.5 481.5,414.5 488.5,414.5 504.5,416.5 513.5,417.5 543.5,417.5 552.5,415.5 560.5,415.5 561.5,416.5 568.5,416.5 569.5,417.5 577.5,418.5 583.5,418.5 585.5,417.5 599.5,417.5 600.5,416.5 608.5,415.5 613.5,415.5 622.5,412.5 627.5,410.5 640.5,407.5 650.5,403.5 670.5,399.5 691.5,395.5 706.5,391.5 717.5,391.5 723.5,389.5 744.5,378.5 750.5,374.5 760.5,369.5 768.5,365.5 771.5,364.5 792.5,353.5 814.5,345.5 830.5,338.5 846.5,333.5 862.5,330.5 878.5,326.5 888.5,324.5 896.5,324.5 897.5,325.5 918.5,325.5 924.5,327.5 929.5,328.5 937.5,329.5 946.5,330.5 954.5,332.5 963.5,334.5 977.5,334.5 984.5,336.5 998.5,336.5 1000.5,335.5 1008.5,335.5 1020.5,332.5 1039.5,329.5 1044.5,329.5 1055.5,323.5 1067.5,318.5 1080.5,309.5 1094.5,300.5 1115.5,289.5 1124.5,282.5 1136.5,272.5 1144.5,264.5 1170.5,245.5 1189.5,233.5 1209.5,227.5 1223.5,226.5 1238.5,225.5 1248.5,224.5 1256.5,222.5 1280.5,222.5 1282.5,223.5 1297.5,223.5 1306.5,225.5 1311.5,225.5 1323.5,228.5 1332.5,231.5 1337.5,232.5 1351.5,232.5 1355.5,233.5 1363.5,231.5 1370.5,229.5 1378.5,226.5 1386.5,224.5 1395.5,218.5 1414.5,205.5 1424.5,200.5 1441.5,184.5 1454.5,173.5 1466.5,164.5 1478.5,154.5 1491.5,147.5 1504.5,141.5 1532.5,134.5 1548.5,125.5 1555.5,120.5 1565.5,119.5 1577.5,114.5 1595.5,111.5 1615.5,111.5 1625.5,108.5 1634.5,105.5 1645.5,102.5 1659.5,97.5 1667.5,93.5" stroke="#ffa500"/>
</g>
<rect x="4" y="61" width="1685" height="2" fill="#32cd32"/>
<rect x="4" y="124" width="1685" height="2" fill="#4169e1"/>
<rect x="4" y="186" width="1685" height="2" fill="#4169e1"/>
<rect x="4" y="265" width="1685" height="2" fill="#4169e1"/>
<g clip-path="url(#cd)">
<rect x="4" y="554" width="1" height="98" fill="#c0c0c0"/>
<rect x="12" y="544" width="1" height="108" fill="#c0c0c0"/>
<rect x="20" y="536" width="1" height="116" fill="#c0c0c0"/>
<rect x="28" y="527" width="1" height="125" fill="#c0c0c0"/>
<rect x="36" y="533" width="1" height="119" fill="#c0c0c0"/>
<rect x="44" y="544" width="1" height="108" fill="#c0c0c0"/>
<rect x="52" y="552" width="1" height="100" fill="#c0c0c0"/>
<rect x="60" y="559" width="1" height="93" fill="#c0c0c0"/>
<rect x="68" y="566" width="1" height="86" fill="#c0c0c0"/>
<rect x="76" y="573" width="1" height="79" fill="#c0c0c0"/>
<rect x="84" y="577" width="1" height="75" fill="#c0c0c0"/>
<rect x="92" y="578" width="1" height="74" fill="#c0c0c0"/>
<rect x="100" y="578" width="1" height="74" fill="#c0c0c0"/>
<rect x="108" y="576" width="1" height="76" fill="#c0c0c0"/>
<rect x="116" y="575" width="1" height="77" fill="#c0c0c0"/>
<rect x="124" y="575" width="1" height="77" fill="#c0c0c0"/>
<rect x="132" y="568" width="1" height="84" fill="#c0c0c0"/>
<rect x="140" y="568" width="1" height="84" fill="#c0c0c0"/>
<rect x="148" y="575" width="1" height="77" fill="#c0c0c0"/>
<rect x="156" y="577" width="1" height="75" fill="#c0c0c0"/>
<rect x="164" y="578" width="1" height="74" fill="#c0c0c0"/>
<rect x="172" y="579" width="1" height="73" fill="#c0c0c0"/>
<rect x="180" y="580" width="1" height="72" fill="#c0c0c0"/>
<rect x="188" y="584" width="1" height="68" fill="#c0c0c0"/>
<rect x="196" y="588" width="1" height="64" fill="#c0c0c0"/>
<rect x="204" y="594" width="1" height="58" fill="#c0c0c0"/>
<rect x="212" y="597" width="1" height="55" fill="#c0c0c0"/>
<rect x="220" y="603" width="1" height="49" fill="#c0c0c0"/>
<rect x="228" y="607" width="1" height="45" fill="#c0c0c0"/>
<rect x="236" y="607" width="1" height="45" fill="#c0c0c0"/>
<rect x="244" y="606" width="1" height="46" fill="#c0c0c0"/>
<rect x="252" y="610" width="1" height="42" fill="#c0c0c0"/>
<rect x="260" y="620" width="1" height="32" fill="#c0c0c0"/>
<rect x="268" y="626" width="1" height="26" fill="#c0c0c0"/>
<rect x="276" y="632" width="1" height="20" fill="#c0c0c0"/>
<rect x="284" y="635" width="1" height="17" fill="#c0c0c0"/>
<rect x="292" y="636" width="1" height="16" fill="#c0c0c0"/>
<rect x="300" y="635" width="1" height="17" fill="#c0c0c0"/>
<rect x="308" y="620" width="1" height="32" fill="#c0c0c0"/>
<rect x="316" y="615" width="1" height="37" fill="#c0c0c0"/>
<rect x="324" y="610" width="1" height="42" fill="#c0c0c0"/>
<rect x="332" y="606" width="1" height="46" fill="#c0c0c0"/>
<rect x="340" y="602" width="1" height="50" fill="#c0c0c0"/>
<rect x="348" y="595" width="1" height="57" fill="#c0c0c0"/>
<rect x="356" y="598" width="1" height="54" fill="#c0c0c0"/>
<rect x="364" y="603" width="1" height="49" fill="#c0c0c0"/>
<rect x="372" y="606" width="1" height="46" fill="#c0c0c0"/>
<rect x="380" y="615" width="1" height="37" fill="#c0c0c0"/>
<rect x="388" y="624" width="1" height="28" fill="#c0c0c0"/>
<rect x="396" y="630" width="1" height="22" fill="#c0c0c0"/>
<rect x="404" y="631" width="1" height="21" fill="#c0c0c0"/>
<rect x="412" y="634" width="1" height="18" fill="#c0c0c0"/>
<rect x="420" y="638" width="1" height="14" fill="#c0c0c0"/>
<rect x="428" y="636" width="1" height="16" fill="#c0c0c0"/>
<rect x="436" y="635" width="1" height="17" fill="#c0c0c0"/>
<rect x="444" y="641" width="1" height="11" fill="#c0c0c0"/>
<rect x="452" y="649" width="1" height="3" fill="#c0c0c0"/>
<rect x="460" y="651" width="1" height="3" fill="#c0c0c0"/>
<rect x="468" y="651" width="1" height="7" fill="#c0c0c0"/>
<rect x="476" y="651" width="1" height="10" fill="#c0c0c0"/>
<rect x="484" y="651" width="1" height="9" fill="#c0c0c0"/>
<rect x="492" y="651" width="1" height="4" fill="#c0c0c0"/>
<rect x="500" y="650" width="1" height="2" fill="#c0c0c0"/>
<rect x="508" y="645" width="1" height="7" fill="#c0c0c0"/>
<rect x="516" y="642" width="1" height="10" fill="#c0c0c0"/>
<rect x="524" y="639" width="1" height="13" fill="#c0c0c0"/>
<rect x="532" y="636" width="1" height="16" fill="#c0c0c0"/>
<rect x="540" y="636" width="1" height="16" fill="#c0c0c0"/>
<rect x="548" y="631" width="1" height="21" fill="#c0c0c0"/>
<rect x="556" y="633" width="1" height="19" fill="#c0c0c0"/>
<rect x="564" y="645" width="1" height="7" fill="#c0c0c0"/>
<rect x="572" y="651" width="1" height="3" fill="#c0c0c0"/>
<rect x="580" y="651" width="1" height="5" fill="#c0c0c0"/>
<rect x="588" y="651" width="1" height="2" fill="#c0c0c0"/>
<rect x="596" y="649" width="1" height="3" fill="#c0c0c0"/>
<rect x="604" y="644" width="1" height="8" fill="#c0c0c0"/>
<rect x="612" y="640" width="1" height="12" fill="#c0c0c0"/>
<rect x="620" y="638" width="1" height="14" fill="#c0c0c0"/>
<rect x="628" y="631" width="1" height="21" fill="#c0c0c0"/>
<rect x="636" y="628" width="1" height="24" fill="#c0c0c0"/>
<rect x="644" y="624" width="1" height="28" fill="#c0c0c0"/>
<rect x="652" y="621" width="1" height="31" fill="#c0c0c0"/>
<rect x="660" y="619" width="1" height="33" fill="#c0c0c0"/>
<rect x="668" y="615" width="1" height="37" fill="#c0c0c0"/>
<rect x="676" y="612" width="1" height="40" fill="#c0c0c0"/>
<rect x="684" y="608" width="1" height="44" fill="#c0c0c0"/>
<rect x="692" y="604" width="1" height="48" fill="#c0c0c0"/>
<rect x="700" y="603" width="1" height="49" fill="#c0c0c0"/>
<rect x="708" y="604" width="1" height="48" fill="#c0c0c0"/>
<rect x="716" y="607" width="1" height="45" fill="#c0c0c0"/>
<rect x="724" y="608" width="1" height="44" fill="#c0c0c0"/>
<rect x="732" y="607" width="1" height="45" fill="#c0c0c0"/>
<rect x="740" y="604" width="1" height="48" fill="#c0c0c0"/>
<rect x="748" y="600" width="1" height="52" fill="#c0c0c0"/>
<rect x="756" y="589" width="1" height="63" fill="#c0c0c0"/>
<rect x="764" y="581" width="1" height="71" fill="#c0c0c0"/>
<rect x="772" y="576" width="1" height="76" fill="#c0c0c0"/>
<rect x="780" y="572" width="1" height="80" fill="#c0c0c0"/>
<rect x="788" y="571" width="1" height="81" fill="#c0c0c0"/>
<rect x="796" y="573" width="1" height="79" fill="#c0c0c0"/>
<rect x="804" y="576" width="1" height="76" fill="#c0c0c0"/>
<rect x="812" y="575" width="1" height="77" fill="#c0c0c0"/>
<rect x="820" y="576" width="1" height="76" fill="#c0c0c0"/>
<rect x="828" y="578" width="1" height="74" fill="#c0c0c0"/>
<rect x="836" y="582" width="1" height="70" fill="#c0c0c0"/>
<rect x="844" y="585" width="1" height="67" fill="#c0c0c0"/>
<rect x="852" y="594" width="1" height="58" fill="#c0c0c0"/>
<rect x="860" y="597" width="1" height="55" fill="#c0c0c0"/>
<rect x="868" y="600" width="1" height="52" fill="#c0c0c0"/>
<rect x="876" y="606" width="1" height="46" fill="#c0c0c0"/>
<rect x="884" y="612" width="1" height="40" fill="#c0c0c0"/>
<rect x="892" y="621" width="1" height="31" fill="#c0c0c0"/>
<rect x="900" y="635" width="1" height="17" fill="#c0c0c0"/>
<rect x="908" y="642" width="1" height="10" fill="#c0c0c0"/>
<rect x="916" y="645" width="1" height="7" fill="#c0c0c0"/>
<rect x="924" y="650" width="1" height="2" fill="#c0c0c0"/>
<rect x="932" y="651" width="1" height="1" fill="#c0c0c0"/>
<rect x="940" y="648" width="1" height="4" fill="#c0c0c0"/>
<rect x="948" y="648" width="1" height="4" fill="#c0c0c0"/>
<rect x="956" y="651" width="1" height="1" fill="#c0c0c0"/>
<rect x="964" y="651" width="1" height="2" fill="#c0c0c0"/>
<rect x="972" y="651" width="1" height="1" fill="#c0c0c0"/>
<rect x="980" y="649" width="1" height="3" fill="#c0c0c0"/>
<rect x="988" y="644" width="1" height="8" fill="#c0c0c0"/>
<rect x="996" y="639" width="1" height="13" fill="#c0c0c0"/>
<rect x="1004" y="631" width="1" height="21" fill="#c0c0c0"/>
<rect x="1012" y="624" width="1" height="28" fill="#c0c0c0"/>
<rect x="1020" y="620" width="1" height="32" fill="#c0c0c0"/>
<rect x="1028" y="612" width="1" height="40" fill="#c0c0c0"/>
<rect x="1036" y="607" width="1" height="45" fill="#c0c0c0"/>
<rect x="1044" y="607" width="1" height="45" fill="#c0c0c0"/>
<rect x="1052" y="597" width="1" height="55" fill="#c0c0c0"/>
<rect x="1060" y="588" width="1" height="64" fill="#c0c0c0"/>
<rect x="1068" y="582" width="1" height="70" fill="#c0c0c0"/>
<rect x="1076" y="577" width="1" height="75" fill="#c0c0c0"/>
<rect x="1084" y="574" width="1" height="78" fill="#c0c0c0"/>
<rect x="1092" y="574" width="1" height="78" fill="#c0c0c0"/>
<rect x="1100" y="569" width="1" height="83" fill="#c0c0c0"/>
<rect x="1108" y="564" width="1" height="88" fill="#c0c0c0"/>
<rect x="1116" y="561" width="1" height="91" fill="#c0c0c0"/>
<rect x="1124" y="553" width="1" height="99" fill="#c0c0c0"/>
<rect x="1132" y="546" width="1" height="106" fill="#c0c0c0"/>
<rect x="1140" y="544" width="1" height="108" fill="#c0c0c0"/>
<rect x="1148" y="540" width="1" height="112" fill="#c0c0c0"/>
<rect x="1156" y="537" width="1" height="115" fill="#c0c0c0"/>
<rect x="1164" y="535" width="1" height="117" fill="#c0c0c0"/>
<rect x="1172" y="535" width="1" height="117" fill="#c0c0c0"/>
<rect x="1180" y="535" width="1" height="117" fill="#c0c0c0"/>
<rect x="1188" y="538" width="1" height="114" fill="#c0c0c0"/>
<rect x="1196" y="555" width="1" height="97" fill="#c0c0c0"/>
<rect x="1204" y="570" width="1" height="82" fill="#c0c0c0"/>
<rect x="1212" y="586" width="1" height="66" fill="#c0c0c0"/>
<rect x="1220" y="602" width="1" height="50" fill="#c0c0c0"/>
<rect x="1228" y="612" width="1" height="40" fill="#c0c0c0"/>
<rect x="1236" y="617" width="1" height="35" fill="#c0c0c0"/>
<rect x="1244" y="616" width="1" height="36" fill="#c0c0c0"/>
<rect x="1252" y="622" width="1" height="30" fill="#c0c0c0"/>
<rect x="1260" y="626" width="1" height="26" fill="#c0c0c0"/>
<rect x="1268" y="629" width="1" height="23" fill="#c0c0c0"/>
<rect x="1276" y="629" width="1" height="23" fill="#c0c0c0"/>
<rect x="1284" y="636" width="1" height="16" fill="#c0c0c0"/>
<rect x="1292" y="628" width="1" height="24" fill="#c0c0c0"/>
<rect x="1300" y="628" width="1" height="24" fill="#c0c0c0"/>
<rect x="1308" y="628" width="1" height="24" fill="#c0c0c0"/>
<rect x="1316" y="630" width="1" height="22" fill="#c0c0c0"/>
<rect x="1324" y="634" width="1" height="18" fill="#c0c0c0"/>
<rect x="1332" y="638" width="1" height="14" fill="#c0c0c0"/>
<rect x="1340" y="634" width="1" height="18" fill="#c0c0c0"/>
<rect x="1348" y="626" width="1" height="26" fill="#c0c0c0"/>
<rect x="1356" y="621" width="1" height="31" fill="#c0c0c0"/>
<rect x="1364" y="616" width="1" height="36" fill="#c0c0c0"/>
<rect x="1372" y="614" width="1" height="38" fill="#c0c0c0"/>
<rect x="1380" y="612" width="1" height="40" fill="#c0c0c0"/>
<rect x="1388" y="609" width="1" height="43" fill="#c0c0c0"/>
<rect x="1396" y="587" width="1" height="65" fill="#c0c0c0"/>
<rect x="1404" y="574" width="1" height="78" fill="#c0c0c0"/>
<rect x="1412" y="564" width="1" height="88" fill="#c0c0c0"/>
<rect x="1420" y="555" width="1" height="97" fill="#c0c0c0"/>
<rect x="1428" y="547" width="1" height="105" fill="#c0c0c0"/>
<rect x="1436" y="536" width="1" height="116" fill="#c0c0c0"/>
<rect x="1444" y="526" width="1" height="126" fill="#c0c0c0"/>
<rect x="1452" y="518" width="1" height="134" fill="#c0c0c0"/>
<rect x="1460" y="517" width="1" height="135" fill="#c0c0c0"/>
<rect x="1468" y="517" width="1" height="135" fill="#c0c0c0"/>
<rect x="1476" y="519" width="1" height="133" fill="#c0c0c0"/>
<rect x="1484" y="531" width="1" height="121" fill="#c0c0c0"/>
<rect x="1492" y="543" width="1" height="109" fill="#c0c0c0"/>
<rect x="1500" y="559" width="1" height="93" fill="#c0c0c0"/>
<rect x="1508" y="573" width="1" height="79" fill="#c0c0c0"/>
<rect x="1516" y="586" width="1" height="66" fill="#c0c0c0"/>
<rect x="1524" y="602" width="1" height="50" fill="#c0c0c0"/>
<rect x="1532" y="615" width="1" height="37" fill="#c0c0c0"/>
<rect x="1540" y="610" width="1" height="42" fill="#c0c0c0"/>
<rect x="1548" y="601" width="1" height="51" fill="#c0c0c0"/>
<rect x="1556" y="594" width="1" height="58" fill="#c0c0c0"/>
<rect x="1564" y="586" width="1" height="66" fill="#c0c0c0"/>
<rect x="1572" y="578" width="1" height="74" fill="#c0c0c0"/>
<rect x="1580" y="580" width="1" height="72" fill="#c0c0c0"/>
<rect x="1588" y="576" width="1" height="76" fill="#c0c0c0"/>
<rect x="1596" y="579" width="1" height="73" fill="#c0c0c0"/>
<rect x="1604" y="581" width="1" height="71" fill="#c0c0c0"/>
<rect x="1612" y="583" width="1" height="69" fill="#c0c0c0"/>
<rect x="1620" y="576" width="1" height="76" fill="#c0c0c0"/>
<rect x="1628" y="570" width="1" height="82" fill="#c0c0c0"/>
<rect x="1636" y="560" width="1" height="92" fill="#c0c0c0"/>
<rect x="1644" y="557" width="1" height="95" fill="#c0c0c0"/>
<rect x="1652" y="560" width="1" height="92" fill="#c0c0c0"/>
<rect x="1660" y="563" width="1" height="89" fill="#c0c0c0"/>
<rect x="1668" y="566" width="1" height="86" fill="#c0c0c0"/>
<polyline points="4.5,605.5 11.5,593.5 19.5,579.5 28.5,566.5 36.5,556.5 45.5,547.5 53.5,545.5 70.5,545.5 77.5,547.5 85.5,551.5 94.5,558.5 106.5,565.5 117.5,570.5 129.5,573.5 170.5,574.5 186.5,574.5 195.5,576.5 205.5,580.5 216.5,584.5 235.5,591.5 244.5,595.5 263.5,604.5 282.5,613.5 299.5,621.5 310.5,623.5 324.5,625.5 333.5,622.5 348.5,616.5 364.5,608.5 371.5,605.5 386.5,605.5 398.5,608.5 409.5,612.5 421.5,618.5 432.5,625.5 451.5,632.5 470.5,641.5 489.5,648.5 507.5,652.5 526.5,650.5 538.5,646.5 551.5,643.5 561.5,639.5 580.5,639.5 589.5,641.5 599.5,643.5 621.5,644.5 629.5,645.5 637.5,643.5 648.5,637.5 667.5,629.5 686.5,621.5 705.5,612.5 724.5,608.5 733.5,605.5 742.5,605.5 761.5,600.5 780.5,592.5 799.5,583.5 809.5,579.5 818.5,575.5 828.5,574.5 841.5,574.5 847.5,576.5 856.5,580.5 864.5,582.5 883.5,589.5 892.5,596.5 902.5,603.5 921.5,619.5 939.5,632.5 949.5,638.5 958.5,644.5 977.5,648.5 996.5,648.5 1012.5,643.5 1025.5,637.5 1044.5,626.5 1063.5,610.5 1080.5,598.5 1099.5,586.5 1118.5,575.5 1137.5,564.5 1155.5,553.5 1174.5,544.5 1188.5,538.5 1199.5,540.5 1212.5,546.5 1228.5,562.5 1241.5,576.5 1250.5,587.5 1260.5,600.5 1277.5,615.5 1288.5,621.5 1296.5,624.5 1307.5,626.5 1318.5,628.5 1339.5,631.5 1353.5,629.5 1371.5,626.5 1385.5,623.5 1394.5,617.5 1409.5,604.5 1428.5,587.5 1444.5,571.5 1461.5,546.5 1474.5,534.5 1485.5,529.5 1491.5,527.5 1501.5,529.5 1508.5,533.5 1518.5,541.5 1527.5,552.5 1537.5,565.5 1546.5,576.5 1555.5,584.5 1565.5,591.5 1574.5,593.5 1586.5,593.5 1597.5,589.5 1609.5,584.5 1620.5,580.5 1631.5,578.5 1641.5,574.5 1650.5,570.5 1665.5,568.5" fill="none" stroke="#ff0000" stroke-width="1" stroke-dasharray="3 3"/>
</g>
<g clip-path="url(#cr)">
<line x1="5" y1="717.5" x2="1689" y2="717.5" stroke="#c0c0c0" stroke-width="1" stroke-dasharray="3 3"/>
<line x1="5" y1="775.5" x2="1689" y2="775.5" stroke="#c0c0c0" stroke-width="1" stroke-dasharray="3 3"/>
<polyline points="4.5,717.5 12.5,712.5 20.5,711.5 28.5,707.5 36.5,730.5 44.5,737.5 52.5,734.5 60.5,735.5 68.5,735.5 76.5,736.5 84.5,733.5 92.5,729.5 100.5,727.5 108.5,724.5 116.5,723.5 124.5,724.5 132.5,714.5 140.5,726.5 148.5,736.5 156.5,731.5 164.5,729.5 172.5,728.5 180.5,729.5 188.5,733.5 196.5,734.5 204.5,738.5 212.5,733.5 220.5,740.5 228.5,738.5 236.5,732.5 244.5,729.5 252.5,737.5 260.5,753.5 268.5,748.5 276.5,748.5 284.5,747.5 292.5,742.5 300.5,737.5 308.5,719.5 316.5,730.5 324.5,730.5 332.5,728.5 340.5,726.5 348.5,722.5 356.5,736.5 364.5,739.5 372.5,739.5 380.5,747.5 388.5,752.5 396.5,749.5 404.5,742.5 412.5,745.5 420.5,747.5 428.5,738.5 436.5,740.5 444.5,752.5 452.5,756.5 460.5,755.5 468.5,756.5 476.5,754.5 484.5,747.5 492.5,738.5 500.5,736.5 508.5,735.5 516.5,734.5 524.5,734.5 532.5,732.5 540.5,740.5 548.5,729.5 556.5,744.5 564.5,762.5 572.5,761.5 580.5,750.5 588.5,742.5 596.5,738.5 604.5,736.5 612.5,737.5 620.5,737.5 628.5,730.5 636.5,732.5 644.5,730.5 652.5,730.5 660.5,729.5 668.5,725.5 676.5,725.5 684.5,720.5 692.5,718.5 700.5,724.5 708.5,729.5 716.5,734.5 724.5,727.5 732.5,724.5 740.5,721.5 748.5,717.5 756.5,705.5 764.5,709.5 772.5,709.5 780.5,708.5 788.5,711.5 796.5,716.5 804.5,722.5 812.5,715.5 820.5,718.5 828.5,721.5 836.5,726.5 844.5,724.5 852.5,742.5 860.5,731.5 868.5,735.5 876.5,740.5 884.5,743.5 892.5,750.5 900.5,764.5 908.5,754.5 916.5,749.5 924.5,753.5 932.5,746.5 940.5,740.5 948.5,744.5 956.5,753.5 964.5,747.5 972.5,744.5 980.5,737.5 988.5,737.5 996.5,733.5 1004.5,728.5 1012.5,725.5 1020.5,727.5 1028.5,720.5 1036.5,723.5 1044.5,732.5 1052.5,717.5 1060.5,717.5 1068.5,717.5 1076.5,715.5 1084.5,715.5 1092.5,719.5 1100.5,711.5 1108.5,710.5 1116.5,710.5 1124.5,703.5 1132.5,702.5 1140.5,708.5 1148.5,705.5 1156.5,704.5 1164.5,703.5 1172.5,704.5 1180.5,703.5 1188.5,705.5 1196.5,744.5 1204.5,745.5 1212.5,752.5 1220.5,756.5 1228.5,748.5 1236.5,744.5 1244.5,735.5 1252.5,746.5 1260.5,744.5 1268.5,744.5 1276.5,739.5 1284.5,751.5 1292.5,731.5 1300.5,741.5 1308.5,741.5 1316.5,743.5 1324.5,747.5 1332.5,747.5 1340.5,738.5 1348.5,731.5 1356.5,731.5 1364.5,730.5 1372.5,734.5 1380.5,731.5 1388.5,729.5 1396.5,710.5 1404.5,716.5 1412.5,716.5 1420.5,713.5 1428.5,712.5 1436.5,708.5 1444.5,706.5 1452.5,705.5 1460.5,712.5 1468.5,713.5 1476.5,712.5 1484.5,733.5 1492.5,736.5 1500.5,744.5 1508.5,744.5 1516.5,747.5 1524.5,754.5 1532.5,755.5 1540.5,732.5 1548.5,726.5 1556.5,726.5 1564.5,722.5 1572.5,720.5 1580.5,732.5 1588.5,727.5 1596.5,733.5 1604.5,733.5 1612.5,732.5 1620.5,722.5 1628.5,721.5 1636.5,715.5 1644.5,724.5 1652.5,730.5 1660.5,729.5 1668.5,729.5" fill="none" stroke="#1e90ff" stroke-width="1"/>
</g>
<rect x="3" y="4" width="1687" height="1" fill="#000"/>
<rect x="3" y="505" width="1687" height="1" fill="#000"/>
<rect x="3" y="4" width="1" height="502" fill="#000"/>
<rect x="1689" y="4" width="1" height="502" fill="#000"/>
<rect x="3" y="507" width="1687" height="1" fill="#000"/>
<rect x="3" y="669" width="1687" height="1" fill="#000"/>
<rect x="3" y="507" width="1" height="163" fill="#000"/>
<rect x="1689" y="507" width="1" height="163" fill="#000"/>
<rect x="3" y="671" width="1687" height="1" fill="#000"/>
<rect x="3" y="820" width="1687" height="1" fill="#000"/>
<rect x="3" y="671" width="1" height="150" fill="#000"/>
<rect x="1689" y="671" width="1" height="150" fill="#000"/>
<rect x="0" y="0" width="1730" height="1" fill="#a8a8a8"/>
<rect x="0" y="1" width="1730" height="1" fill="#6a6a6a"/>
<rect x="0" y="0" width="1" height="841" fill="#5f5f5f"/>
<rect x="1730" y="0" width="1" height="842" fill="#e3e3e3"/>
<rect x="0" y="841" width="1731" height="1" fill="#e3e3e3"/>
<rect x="1690" y="7" width="2" height="1" fill="#000"/>
<rect x="1690" y="40" width="2" height="1" fill="#000"/>
<rect x="1690" y="73" width="2" height="1" fill="#000"/>
<rect x="1690" y="106" width="2" height="1" fill="#000"/>
<rect x="1690" y="139" width="2" height="1" fill="#000"/>
<rect x="1690" y="172" width="2" height="1" fill="#000"/>
<rect x="1690" y="205" width="2" height="1" fill="#000"/>
<rect x="1690" y="238" width="2" height="1" fill="#000"/>
<rect x="1690" y="271" width="2" height="1" fill="#000"/>
<rect x="1690" y="304" width="2" height="1" fill="#000"/>
<rect x="1690" y="337" width="2" height="1" fill="#000"/>
<rect x="1690" y="370" width="2" height="1" fill="#000"/>
<rect x="1690" y="403" width="2" height="1" fill="#000"/>
<rect x="1690" y="436" width="2" height="1" fill="#000"/>
<rect x="1690" y="469" width="2" height="1" fill="#000"/>
<rect x="1690" y="502" width="2" height="1" fill="#000"/>
<rect x="1690" y="509" width="2" height="1" fill="#000"/>
<rect x="1690" y="651" width="2" height="1" fill="#000"/>
<rect x="1690" y="668" width="2" height="1" fill="#000"/>
<rect x="1690" y="673" width="2" height="1" fill="#000"/>
<rect x="1690" y="819" width="2" height="1" fill="#000"/>
<rect x="4" y="821" width="1" height="3" fill="#000"/>
<rect x="68" y="821" width="1" height="3" fill="#000"/>
<rect x="132" y="821" width="1" height="3" fill="#000"/>
<rect x="196" y="821" width="1" height="3" fill="#000"/>
<rect x="260" y="821" width="1" height="3" fill="#000"/>
<rect x="324" y="821" width="1" height="3" fill="#000"/>
<rect x="388" y="821" width="1" height="3" fill="#000"/>
<rect x="452" y="821" width="1" height="3" fill="#000"/>
<rect x="516" y="821" width="1" height="3" fill="#000"/>
<rect x="580" y="821" width="1" height="3" fill="#000"/>
<rect x="644" y="821" width="1" height="3" fill="#000"/>
<rect x="708" y="821" width="1" height="3" fill="#000"/>
<rect x="772" y="821" width="1" height="3" fill="#000"/>
<rect x="836" y="821" width="1" height="3" fill="#000"/>
<rect x="900" y="821" width="1" height="3" fill="#000"/>
<rect x="964" y="821" width="1" height="3" fill="#000"/>
<rect x="1028" y="821" width="1" height="3" fill="#000"/>
<rect x="1092" y="821" width="1" height="3" fill="#000"/>
<rect x="1156" y="821" width="1" height="3" fill="#000"/>
<rect x="1220" y="821" width="1" height="3" fill="#000"/>
<rect x="1284" y="821" width="1" height="3" fill="#000"/>
<rect x="1348" y="821" width="1" height="3" fill="#000"/>
<rect x="1412" y="821" width="1" height="3" fill="#000"/>
<rect x="1476" y="821" width="1" height="3" fill="#000"/>
<rect x="1540" y="821" width="1" height="3" fill="#000"/>
<rect x="1604" y="821" width="1" height="3" fill="#000"/>
<rect x="1668" y="821" width="1" height="3" fill="#000"/>
<rect x="1691" y="54" width="36" height="11" fill="#000000"/>
<rect x="1691" y="56" width="36" height="11" fill="#32cd32"/>
<rect x="1691" y="119" width="36" height="11" fill="#4169e1"/>
<rect x="1691" y="181" width="36" height="11" fill="#4169e1"/>
<rect x="1691" y="260" width="36" height="11" fill="#4169e1"/>
<g shape-rendering="auto" text-rendering="geometricPrecision">
<text x="1695" y="11" font-family="'Liberation Sans', Tahoma, Arial, sans-serif" font-size="9.8" letter-spacing="-0.2" class="k">85.260</text>
<text x="1695" y="44" font-family="'Liberation Sans', Tahoma, Arial, sans-serif" font-size="9.8" letter-spacing="-0.2" class="k">84.210</text>
<text x="1695" y="77" font-family="'Liberation Sans', Tahoma, Arial, sans-serif" font-size="9.8" letter-spacing="-0.2" class="k">83.160</text>
<text x="1695" y="110" font-family="'Liberation Sans', Tahoma, Arial, sans-serif" font-size="9.8" letter-spacing="-0.2" class="k">82.110</text>
<text x="1695" y="143" font-family="'Liberation Sans', Tahoma, Arial, sans-serif" font-size="9.8" letter-spacing="-0.2" class="k">81.060</text>
<text x="1695" y="176" font-family="'Liberation Sans', Tahoma, Arial, sans-serif" font-size="9.8" letter-spacing="-0.2" class="k">79.980</text>
<text x="1695" y="209" font-family="'Liberation Sans', Tahoma, Arial, sans-serif" font-size="9.8" letter-spacing="-0.2" class="k">78.930</text>
<text x="1695" y="242" font-family="'Liberation Sans', Tahoma, Arial, sans-serif" font-size="9.8" letter-spacing="-0.2" class="k">77.880</text>
<text x="1695" y="275" font-family="'Liberation Sans', Tahoma, Arial, sans-serif" font-size="9.8" letter-spacing="-0.2" class="k">76.830</text>
<text x="1695" y="308" font-family="'Liberation Sans', Tahoma, Arial, sans-serif" font-size="9.8" letter-spacing="-0.2" class="k">75.780</text>
<text x="1695" y="341" font-family="'Liberation Sans', Tahoma, Arial, sans-serif" font-size="9.8" letter-spacing="-0.2" class="k">74.730</text>
<text x="1695" y="374" font-family="'Liberation Sans', Tahoma, Arial, sans-serif" font-size="9.8" letter-spacing="-0.2" class="k">73.650</text>
<text x="1695" y="407" font-family="'Liberation Sans', Tahoma, Arial, sans-serif" font-size="9.8" letter-spacing="-0.2" class="k">72.600</text>
<text x="1695" y="440" font-family="'Liberation Sans', Tahoma, Arial, sans-serif" font-size="9.8" letter-spacing="-0.2" class="k">71.550</text>
<text x="1695" y="473" font-family="'Liberation Sans', Tahoma, Arial, sans-serif" font-size="9.8" letter-spacing="-0.2" class="k">70.500</text>
<text x="1695" y="506" font-family="'Liberation Sans', Tahoma, Arial, sans-serif" font-size="9.8" letter-spacing="-0.2" class="k">69.450</text>
</g>
<rect x="1691" y="260" width="36" height="11" fill="#4169e1"/>
<g shape-rendering="auto" text-rendering="geometricPrecision">
<text x="1695" y="65" font-family="'Liberation Sans', Tahoma, Arial, sans-serif" font-size="9.8" letter-spacing="-0.2" class="w">83.500</text>
<text x="1695" y="128" font-family="'Liberation Sans', Tahoma, Arial, sans-serif" font-size="9.8" letter-spacing="-0.2" class="w">81.500</text>
<text x="1695" y="190" font-family="'Liberation Sans', Tahoma, Arial, sans-serif" font-size="9.8" letter-spacing="-0.2" class="w">79.500</text>
<text x="1695" y="269" font-family="'Liberation Sans', Tahoma, Arial, sans-serif" font-size="9.8" letter-spacing="-0.2" class="w">77.000</text>
<text x="1693" y="518" font-family="'Liberation Sans', Tahoma, Arial, sans-serif" font-size="9.8" letter-spacing="-0.2" class="k">1.2585</text>
<text x="1693" y="655" font-family="'Liberation Sans', Tahoma, Arial, sans-serif" font-size="9.8" letter-spacing="-0.2" class="k">0.00</text>
<text x="1693" y="666" font-family="'Liberation Sans', Tahoma, Arial, sans-serif" font-size="9.8" letter-spacing="-0.2" class="k">-0.1516</text>
<text x="1693" y="682" font-family="'Liberation Sans', Tahoma, Arial, sans-serif" font-size="9.8" letter-spacing="-0.2" class="k">100</text>
<text x="1691.5" y="721" font-family="'Liberation Sans', Tahoma, Arial, sans-serif" font-size="9.8" letter-spacing="-0.2" class="k">70</text>
<text x="1691.5" y="779" font-family="'Liberation Sans', Tahoma, Arial, sans-serif" font-size="9.8" letter-spacing="-0.2" class="k">30</text>
<text x="1693" y="817" font-family="'Liberation Sans', Tahoma, Arial, sans-serif" font-size="9.8" letter-spacing="-0.2" class="k">0</text>
<text x="3" y="833" font-family="'Liberation Sans', Tahoma, Arial, sans-serif" font-size="9.8" letter-spacing="-0.2" class="k">25 Aug 2021</text>
<text x="67" y="833" font-family="'Liberation Sans', Tahoma, Arial, sans-serif" font-size="9.8" letter-spacing="-0.2" class="k">26 Aug 16:00</text>
<text x="131" y="833" font-family="'Liberation Sans', Tahoma, Arial, sans-serif" font-size="9.8" letter-spacing="-0.2" class="k">29 Aug 23:00</text>
<text x="195" y="833" font-family="'Liberation Sans', Tahoma, Arial, sans-serif" font-size="9.8" letter-spacing="-0.2" class="k">31 Aug 04:00</text>
<text x="259" y="833" font-family="'Liberation Sans', Tahoma, Arial, sans-serif" font-size="9.8" letter-spacing="-0.2" class="k">1 Sep 12:00</text>
<text x="323" y="833" font-family="'Liberation Sans', Tahoma, Arial, sans-serif" font-size="9.8" letter-spacing="-0.2" class="k">2 Sep 20:00</text>
<text x="387" y="833" font-family="'Liberation Sans', Tahoma, Arial, sans-serif" font-size="9.8" letter-spacing="-0.2" class="k">6 Sep 00:00</text>
<text x="451" y="833" font-family="'Liberation Sans', Tahoma, Arial, sans-serif" font-size="9.8" letter-spacing="-0.2" class="k">7 Sep 12:00</text>
<text x="515" y="833" font-family="'Liberation Sans', Tahoma, Arial, sans-serif" font-size="9.8" letter-spacing="-0.2" class="k">8 Sep 20:00</text>
<text x="579" y="833" font-family="'Liberation Sans', Tahoma, Arial, sans-serif" font-size="9.8" letter-spacing="-0.2" class="k">10 Sep 00:00</text>
<text x="643" y="833" font-family="'Liberation Sans', Tahoma, Arial, sans-serif" font-size="9.8" letter-spacing="-0.2" class="k">13 Sep 04:00</text>
<text x="707" y="833" font-family="'Liberation Sans', Tahoma, Arial, sans-serif" font-size="9.8" letter-spacing="-0.2" class="k">14 Sep 12:00</text>
<text x="771" y="833" font-family="'Liberation Sans', Tahoma, Arial, sans-serif" font-size="9.8" letter-spacing="-0.2" class="k">15 Sep 20:00</text>
<text x="835" y="833" font-family="'Liberation Sans', Tahoma, Arial, sans-serif" font-size="9.8" letter-spacing="-0.2" class="k">17 Sep 04:00</text>
<text x="899" y="833" font-family="'Liberation Sans', Tahoma, Arial, sans-serif" font-size="9.8" letter-spacing="-0.2" class="k">20 Sep 08:00</text>
<text x="963" y="833" font-family="'Liberation Sans', Tahoma, Arial, sans-serif" font-size="9.8" letter-spacing="-0.2" class="k">21 Sep 16:00</text>
<text x="1027" y="833" font-family="'Liberation Sans', Tahoma, Arial, sans-serif" font-size="9.8" letter-spacing="-0.2" class="k">23 Sep 00:00</text>
<text x="1091" y="833" font-family="'Liberation Sans', Tahoma, Arial, sans-serif" font-size="9.8" letter-spacing="-0.2" class="k">24 Sep 08:00</text>
<text x="1155" y="833" font-family="'Liberation Sans', Tahoma, Arial, sans-serif" font-size="9.8" letter-spacing="-0.2" class="k">27 Sep 12:00</text>
<text x="1219" y="833" font-family="'Liberation Sans', Tahoma, Arial, sans-serif" font-size="9.8" letter-spacing="-0.2" class="k">29 Sep 00:00</text>
<text x="1283" y="833" font-family="'Liberation Sans', Tahoma, Arial, sans-serif" font-size="9.8" letter-spacing="-0.2" class="k">30 Sep 08:00</text>
<text x="1347" y="833" font-family="'Liberation Sans', Tahoma, Arial, sans-serif" font-size="9.8" letter-spacing="-0.2" class="k">1 Oct 16:00</text>
<text x="1411" y="833" font-family="'Liberation Sans', Tahoma, Arial, sans-serif" font-size="9.8" letter-spacing="-0.2" class="k">4 Oct 20:00</text>
<text x="1475" y="833" font-family="'Liberation Sans', Tahoma, Arial, sans-serif" font-size="9.8" letter-spacing="-0.2" class="k">6 Oct 04:00</text>
<text x="1539" y="833" font-family="'Liberation Sans', Tahoma, Arial, sans-serif" font-size="9.8" letter-spacing="-0.2" class="k">7 Oct 12:00</text>
<text x="1603" y="833" font-family="'Liberation Sans', Tahoma, Arial, sans-serif" font-size="9.8" letter-spacing="-0.2" class="k">8 Oct 20:00</text>
<text x="1667" y="833" font-family="'Liberation Sans', Tahoma, Arial, sans-serif" font-size="9.8" letter-spacing="-0.2" class="k">11 Oct 21:15</text>
<polygon points="7,11 14,11 10.5,15" fill="#000"/>
<text x="20" y="16" font-family="'Liberation Sans', Tahoma, Arial, sans-serif" font-size="9.8" letter-spacing="-0.2" class="k">UKOil-,H4</text>
<text x="68" y="16" font-family="'Liberation Sans', Tahoma, Arial, sans-serif" font-size="9.8" letter-spacing="-0.2" class="k" style="letter-spacing:-0.28px">83.620 83.620 83.620 83.620</text>
<text x="8" y="520" font-family="'Liberation Sans', Tahoma, Arial, sans-serif" font-size="9.8" letter-spacing="-0.2" class="k">MACD(12,26,9) 0.7584 0.7386</text>
<text x="8" y="684" font-family="'Liberation Sans', Tahoma, Arial, sans-serif" font-size="9.8" letter-spacing="-0.2" class="k" style="letter-spacing:-0.29px">RSI(14) 61.2508</text>
<text transform="translate(1344.1 434.3) scale(1.015 1.032)" x="0" y="0" font-family="'Liberation Sans', 'Noto Sans CJK SC', sans-serif" font-size="36" fill="#ec1c24">多空转折点</text>
<text transform="translate(1526.5 431.4) scale(0.9 0.985)" x="0" y="0" font-family="'Liberation Sans', 'Noto Sans CJK SC', sans-serif" font-size="40" fill="#ec1c24">83.5</text>
</g>
</svg>
</body></html>
